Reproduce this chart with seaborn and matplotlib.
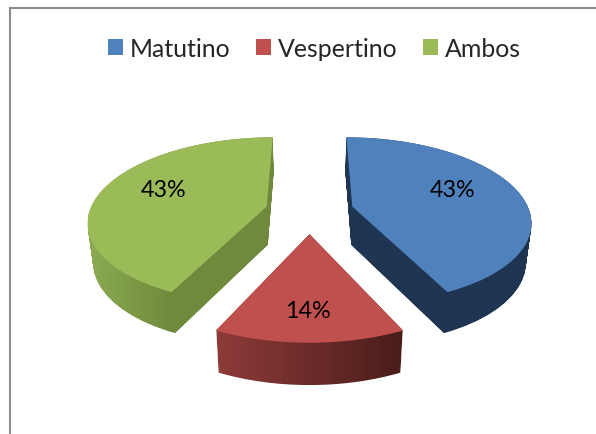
import matplotlib
matplotlib.use('Agg')
import matplotlib.pyplot as plt
import numpy as np
import seaborn as sns
from matplotlib.path import Path
from matplotlib.transforms import Affine2D, Transform

labels = ['Matutino', 'Vespertino', 'Ambos']
values = [43, 14, 43]
top_colors = ['#4F81BD', '#C0504D', '#9BBB59']

# colour of the side walls, left to right in pixels
side_stops = [
    ([350, 530], ['#1F3552', '#1F3552']),
    ([216, 402], ['#8E3B39', '#4A1D1A']),
    ([87, 171, 270], ['#8CAB52', '#708A3D', '#708A3D']),
]
label_shift = [(1, -7), (-2, 16), (-3, -7)]

sns.set_theme(style='white')
plt.rcParams['font.family'] = ['Lato', 'DejaVu Sans']


class Persp(Transform):
    # pie coordinates -> picture pixels, k = how far down the side wall
    input_dims = 2
    output_dims = 2

    def __init__(self, k=0.0):
        super().__init__()
        self.k = k

    def transform_non_affine(self, values):
        v = np.asarray(values, dtype=float)
        w = 1 + 0.165 * v[:, 1]
        px = 309.5 + 177 * v[:, 0] / w
        py = 212 - 82 * v[:, 1] / w
        px = 309.5 + (px - 309.5) * (1 - 0.025 * self.k)
        py = py + self.k * (38.5 - 3 * v[:, 1])
        return np.column_stack([px, py])


def hex_rgb(c):
    return np.array(matplotlib.colors.to_rgb(c))


fig = plt.figure(figsize=(5.96, 4.35), dpi=100)
ax = fig.add_axes([9.5 / 596, 0, 1 - 9.5 / 596, 1 - 8.5 / 435])

wedges, texts, pcts = ax.pie(values, colors=top_colors, explode=[0.25, 0.27, 0.25],
                             startangle=90, counterclock=False, autopct='%.0f%%',
                             pctdistance=0.6, wedgeprops={'linewidth': 0},
                             textprops={'fontsize': 16.8, 'color': 'black'})

for wedge, (xs, cols), pct, shift in zip(wedges, side_stops, pcts, label_shift):
    base = wedge.get_path()
    parts = [Persp(k).transform_path(base) for k in np.linspace(0, 1, 45)]
    sweep = Path.make_compound_path(*parts)
    box = sweep.get_extents()
    grid = np.linspace(box.x0, box.x1, 200)
    rgb = np.array([hex_rgb(c) for c in cols])
    img = np.stack([np.interp(grid, xs, rgb[:, i]) for i in range(3)], axis=1)[None, :, :]
    im = ax.imshow(img, extent=(box.x0, box.x1, box.y1, box.y0), aspect='auto', zorder=1)
    im.set_clip_path(sweep, transform=ax.transData)

    wedge.set_transform(Persp() + ax.transData)
    wedge.set_zorder(2)
    pct.set_transform(Persp() + ax.transData + Affine2D().translate(shift[0], -shift[1]))
    pct.set_zorder(3)

ax.set_aspect('auto')
ax.set_xlim(9.5, 596)
ax.set_ylim(435, 8.5)
ax.set_frame_on(True)
for side in ['left', 'top']:
    ax.spines[side].set_color('#8C8C8C')
    ax.spines[side].set_linewidth(1.5)
    ax.spines[side].set_visible(True)
for side in ['right', 'bottom']:
    ax.spines[side].set_visible(False)

fig.legend(wedges, labels, ncol=3, loc='upper center', bbox_to_anchor=(0.528, 0.913),
           frameon=False, fontsize=17.9, handlelength=0.6, handleheight=0.6,
           handletextpad=0.28, columnspacing=1.03, borderpad=0, borderaxespad=0)

fig.savefig('out.png', dpi=100)
